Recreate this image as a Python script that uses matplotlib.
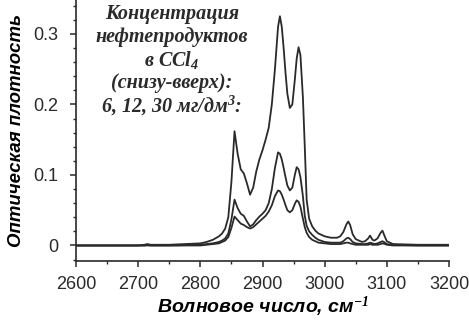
import matplotlib
matplotlib.use("Agg")
import matplotlib.pyplot as plt
from matplotlib.ticker import MultipleLocator, FixedLocator

plt.rcParams["mathtext.fontset"] = "custom"
plt.rcParams["mathtext.rm"] = "Liberation Serif:bold:italic"
plt.rcParams["mathtext.it"] = "Liberation Serif:bold:italic"
plt.rcParams["mathtext.bf"] = "Liberation Serif:bold:italic"

wavenumber = [2600, 2700, 2710, 2715, 2720, 2750, 2800, 2810, 2820, 2830, 2835, 2840, 2845,
              2850, 2855, 2860, 2865, 2870, 2875, 2880, 2885, 2890, 2895, 2900, 2905, 2910,
              2915, 2920, 2925, 2928, 2931, 2934, 2937, 2940, 2944, 2948, 2952, 2955, 2958,
              2961, 2965, 2968, 2971, 2975, 2980, 2985, 2990, 3000, 3010, 3020, 3025, 3030,
              3035, 3038, 3041, 3045, 3050, 3060, 3065, 3070, 3073, 3077, 3080, 3085, 3090,
              3093, 3097, 3100, 3110, 3150, 3200]

conc_30 = [0.0, 0.0, 0.001, 0.002, 0.001, 0.001, 0.003, 0.005, 0.008, 0.013, 0.017, 0.024, 0.04,
           0.09, 0.162, 0.13, 0.108, 0.102, 0.088, 0.072, 0.082, 0.105, 0.122, 0.135, 0.15, 0.167,
           0.2, 0.25, 0.31, 0.325, 0.31, 0.28, 0.245, 0.215, 0.195, 0.2, 0.235, 0.265, 0.281,
           0.27, 0.21, 0.14, 0.065, 0.038, 0.027, 0.021, 0.017, 0.013, 0.011, 0.011, 0.013, 0.019,
           0.03, 0.034, 0.029, 0.016, 0.009, 0.005, 0.006, 0.01, 0.014, 0.008, 0.007, 0.01, 0.018,
           0.021, 0.012, 0.006, 0.002, 0.001, 0.001]

conc_12 = [0.0, 0.0, 0.0, 0.001, 0.0, 0.0, 0.001, 0.002, 0.003, 0.005, 0.007, 0.01, 0.017,
           0.037, 0.065, 0.053, 0.045, 0.042, 0.034, 0.027, 0.03, 0.036, 0.041, 0.045, 0.05, 0.06,
           0.08, 0.11, 0.132, 0.13, 0.122, 0.11, 0.097, 0.085, 0.078, 0.082, 0.1, 0.111, 0.108,
           0.097, 0.07, 0.042, 0.028, 0.02, 0.015, 0.011, 0.008, 0.005, 0.004, 0.004, 0.004, 0.006,
           0.01, 0.011, 0.009, 0.005, 0.003, 0.002, 0.002, 0.003, 0.004, 0.003, 0.002, 0.003, 0.005,
           0.006, 0.004, 0.002, 0.001, 0.0, 0.0]

conc_6 = [0.0, 0.0, 0.0, 0.0, 0.0, 0.0, 0.0, 0.001, 0.002, 0.003, 0.005, 0.007, 0.012,
          0.025, 0.041, 0.036, 0.031, 0.029, 0.026, 0.024, 0.026, 0.03, 0.034, 0.038, 0.042, 0.048,
          0.057, 0.07, 0.078, 0.077, 0.072, 0.065, 0.057, 0.05, 0.047, 0.05, 0.059, 0.064, 0.062,
          0.055, 0.038, 0.026, 0.018, 0.012, 0.008, 0.006, 0.004, 0.003, 0.002, 0.002, 0.002, 0.003,
          0.004, 0.004, 0.003, 0.002, 0.001, 0.001, 0.001, 0.001, 0.002, 0.001, 0.001, 0.001, 0.002,
          0.003, 0.002, 0.001, 0.0, 0.0, 0.0]

x_ticks = [2600, 2700, 2800, 2900, 3000, 3100, 3200]
y_ticks = [0, 0.1, 0.2, 0.3]
y_tick_labels = ["0", "0.1", "0.2", "0.3"]

annotation_lines = ["Концентрация", "нефтепродуктов", "в CCl$_4$", "(снизу-вверх):",
                    "6, 12, 30 мг/дм$^3$:"]

fig = plt.figure(figsize=(4.69, 3.2), dpi=100)
ax = fig.add_axes([76 / 469, 59 / 320, (449 - 76) / 469, 261 / 320])

for series in (conc_30, conc_12, conc_6):
    ax.plot(wavenumber, series, color="#2a2a2a", lw=1.3, solid_joinstyle="round")

ax.set_xlim(2600, 3200)
ax.set_ylim(-0.022, 0.348)
ax.spines["top"].set_visible(False)
ax.spines["right"].set_visible(False)
for s in ("left", "bottom"):
    ax.spines[s].set_linewidth(1.2)
    ax.spines[s].set_color("#2a2a2a")

ax.xaxis.set_major_locator(FixedLocator(x_ticks))
ax.xaxis.set_minor_locator(MultipleLocator(50))
ax.yaxis.set_major_locator(FixedLocator(y_ticks))
ax.set_yticklabels(y_tick_labels)
ax.yaxis.set_minor_locator(MultipleLocator(0.02))
ax.tick_params(axis="both", which="major", direction="out", length=4, width=1.1,
               labelsize=13, colors="#2a2a2a")
ax.tick_params(axis="x", which="major", pad=7)
ax.tick_params(axis="y", which="major", pad=9)
ax.tick_params(axis="both", which="minor", direction="out", length=2.5, width=1.0,
               colors="#2a2a2a")
for lab in ax.get_xticklabels() + ax.get_yticklabels():
    lab.set_family("Liberation Sans")

ax.set_xlabel("Волновое число, см$^{-1}$", family="Liberation Sans", fontsize=14,
              fontweight="bold", style="italic", labelpad=1)
ax.set_ylabel("Оптическая плотность", family="Liberation Sans", fontsize=13.4,
              fontweight="bold", style="italic", labelpad=6)

line_y = [14, 37, 60, 83, 106]
for txt, yp in zip(annotation_lines, line_y):
    fig.text(172 / 469, 1 - yp / 320, txt, ha="center", va="center",
             family="Liberation Serif", fontsize=14.5, fontweight="bold",
             style="italic", color="#2a2a2a")

fig.savefig("out.png", dpi=100)
